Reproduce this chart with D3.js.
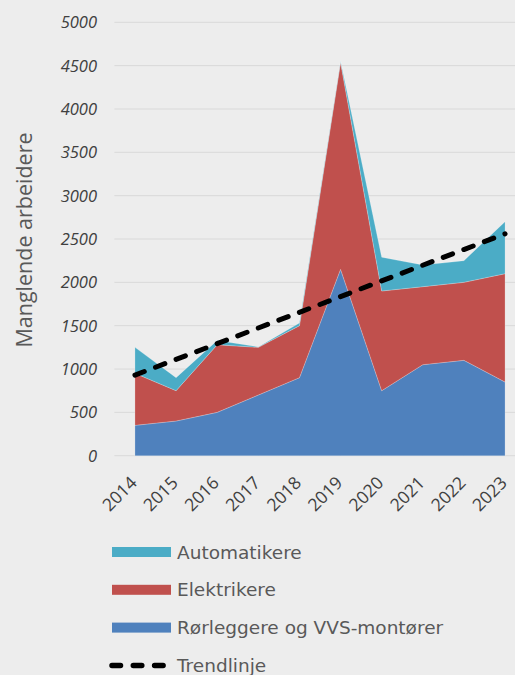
<!DOCTYPE html>
<html>
<head>
<meta charset="utf-8">
<script src="https://cdn.jsdelivr.net/npm/d3@7"></script>
<style>
  html, body { margin: 0; padding: 0; background: #EDEDED; }
  svg { display: block; }
</style>
</head>
<body>
<svg id="chart" width="515" height="675"></svg>
<script>
// Years on the category axis
const years = ["2014","2015","2016","2017","2018","2019","2020","2021","2022","2023"];

// Missing workers per trade (stacked)
const rorleggere  = [350, 400, 500, 700, 900, 2150, 750, 1050, 1100, 850];
const elektrikere = [600, 350, 780, 550, 600, 2390, 1150, 900, 900, 1250];
const automatikere = [300, 150, 50, 5, 30, 10, 390, 250, 250, 600];

// Linear trend line end points
const trendYears = ["2014", "2023"];
const trendValues = [930, 2560];

const yTicks = [0, 500, 1000, 1500, 2000, 2500, 3000, 3500, 4000, 4500, 5000];

const seriesNames = ["Rørleggere og VVS-montører", "Elektrikere", "Automatikere"];
const seriesColors = ["#4F81BD", "#C0504D", "#4BACC6"];

const rows = years.map((y, i) => ({
  year: y,
  "Rørleggere og VVS-montører": rorleggere[i],
  "Elektrikere": elektrikere[i],
  "Automatikere": automatikere[i]
}));

const svg = d3.select("#chart");

const plot = { left: 114.4, right: 525.6, top: 22.3, bottom: 455.7 };

const x = d3.scalePoint().domain(years).range([plot.left, plot.right]).padding(0.5);
const y = d3.scaleLinear().domain([0, 5000]).range([plot.bottom, plot.top]);

// Gridlines
svg.append("g")
  .selectAll("line")
  .data(yTicks)
  .join("line")
  .attr("x1", plot.left)
  .attr("x2", plot.right)
  .attr("y1", d => y(d))
  .attr("y2", d => y(d))
  .attr("stroke", "#D9D9D9")
  .attr("stroke-width", 1);

// Y tick labels
svg.append("g")
  .selectAll("text")
  .data(yTicks)
  .join("text")
  .attr("x", 97)
  .attr("y", d => y(d))
  .attr("dy", "0.36em")
  .attr("text-anchor", "end")
  .attr("font-family", "'Open Sans', sans-serif")
  .attr("font-style", "italic")
  .attr("font-size", 16.5)
  .attr("fill", "#404040")
  .text(d => d);

// Y axis title
svg.append("text")
  .attr("transform", `translate(32,${240}) rotate(-90)`)
  .attr("text-anchor", "middle")
  .attr("font-family", "'Open Sans', sans-serif")
  .attr("font-size", 21.5)
  .attr("fill", "#595959")
  .text("Manglende arbeidere");

// Stacked areas
const stack = d3.stack().keys(seriesNames);
const stacked = stack(rows);

const area = d3.area()
  .x(d => x(d.data.year))
  .y0(d => y(d[0]))
  .y1(d => y(d[1]));

svg.append("g")
  .selectAll("path")
  .data(stacked)
  .join("path")
  .attr("d", area)
  .attr("fill", (d, i) => seriesColors[i])
  .attr("stroke", "rgba(255,255,255,0.35)")
  .attr("stroke-width", 0.6);

// Trend line
const trend = trendYears.map((t, i) => ({ year: t, value: trendValues[i] }));
svg.append("path")
  .datum(trend)
  .attr("d", d3.line().x(d => x(d.year)).y(d => y(d.value)))
  .attr("fill", "none")
  .attr("stroke", "#000")
  .attr("stroke-width", 5)
  .attr("stroke-linecap", "round")
  .attr("stroke-dasharray", "10,12");

// X tick labels, rotated
svg.append("g")
  .selectAll("text")
  .data(years)
  .join("text")
  .attr("transform", d => `translate(${x(d) + 3},${484}) rotate(-45)`)
  .attr("text-anchor", "end")
  .attr("font-family", "'Open Sans', sans-serif")
  .attr("font-size", 17.5)
  .attr("fill", "#404040")
  .text(d => d);

// Legend
const legendItems = [
  { name: "Automatikere", color: "#4BACC6", type: "area" },
  { name: "Elektrikere", color: "#C0504D", type: "area" },
  { name: "Rørleggere og VVS-montører", color: "#4F81BD", type: "area" },
  { name: "Trendlinje", color: "#000", type: "line" }
];

const legend = svg.append("g").attr("transform", "translate(0,552)");
const li = legend.selectAll("g")
  .data(legendItems)
  .join("g")
  .attr("transform", (d, i) => `translate(0,${i * 37.8})`);

li.filter(d => d.type === "area")
  .append("rect")
  .attr("x", 112)
  .attr("y", -5)
  .attr("width", 59)
  .attr("height", 10)
  .attr("fill", d => d.color);

li.filter(d => d.type === "line")
  .append("line")
  .attr("x1", 112)
  .attr("x2", 164)
  .attr("y1", 0)
  .attr("y2", 0)
  .attr("stroke", "#000")
  .attr("stroke-width", 5.5)
  .attr("stroke-linecap", "round")
  .attr("stroke-dasharray", "8.5,12.8");

li.append("text")
  .attr("x", 177)
  .attr("y", 0)
  .attr("dy", "0.36em")
  .attr("font-family", "'DejaVu Sans', sans-serif")
  .attr("font-size", 18.5)
  .attr("fill", "#595959")
  .text(d => d.name);
</script>
</body>
</html>
